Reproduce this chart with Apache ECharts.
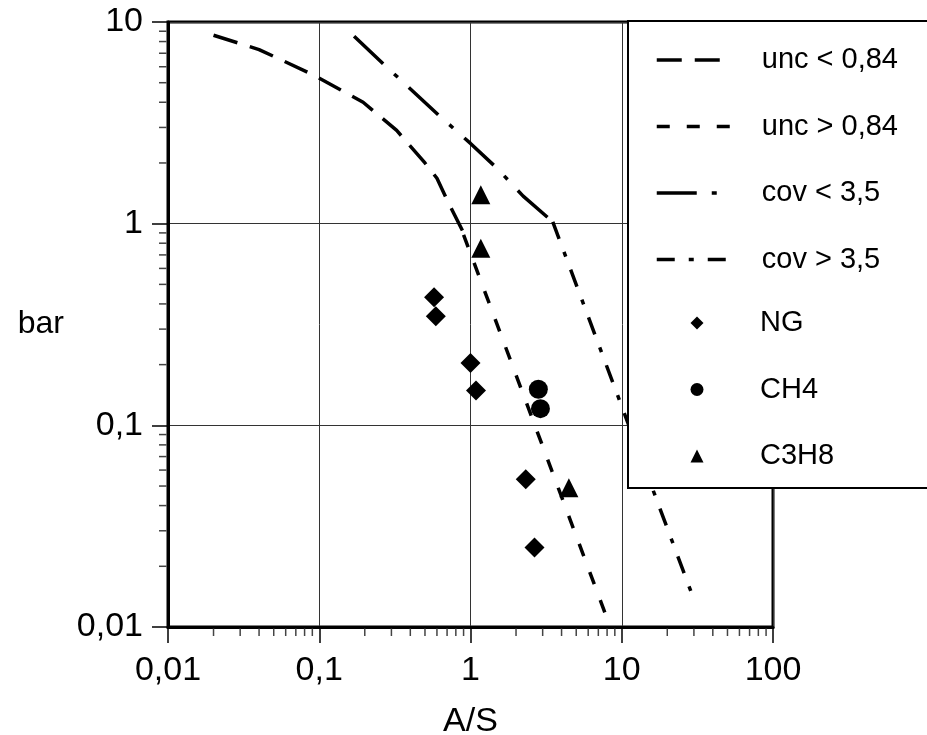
<!DOCTYPE html>
<html>
<head>
<meta charset="utf-8">
<script src="https://cdn.jsdelivr.net/npm/echarts@6/dist/echarts.min.js"></script>
<style>
  html, body { margin: 0; padding: 0; background: #fff; }
  #chart { width: 927px; height: 735px; }
</style>
</head>
<body>
<div id="chart"></div>
<script>
// curves, [A/S, bar]
const uncLow = [[0.02, 8.6], [0.04, 7.3], [0.09, 5.5], [0.195, 4.0], [0.325, 2.9], [0.5, 2.0], [0.6, 1.68], [0.7, 1.31], [0.9, 0.9]]
const uncHigh = [[0.9, 0.88], [8.4, 0.01]]
const covLow = [[0.17, 8.5], [0.265, 6.2], [0.63, 3.4], [1, 2.5], [1.5, 1.88], [2.23, 1.37], [3.5, 1.02]]
const covHigh = [[3.5, 1.02], [30, 0.0137]]

// measured points
const ng = [[0.574, 0.432], [0.59, 0.347], [1.0, 0.204], [1.087, 0.149], [2.32, 0.054], [2.65, 0.0248]]
const ch4 = [[2.81, 0.151], [2.9, 0.121]]
const c3h8 = [[1.17, 1.39], [1.17, 0.755], [4.47, 0.049]]

const lineNames = ['unc < 0,84', 'unc > 0,84', 'cov < 3,5', 'cov > 3,5']
const pointNames = ['NG', 'CH4', 'C3H8']

// minor tick positions (2..9 in each decade)
const xDecades = [0.01, 0.1, 1, 10]
const yDecades = [0.01, 0.1, 1]
const minorX = []
xDecades.forEach(d => { for (let k = 2; k <= 9; k++) minorX.push(+(k * d).toPrecision(6)) })
const minorY = []
yDecades.forEach(d => { for (let k = 2; k <= 9; k++) minorY.push(+(k * d).toPrecision(6)) })

const fmt = v => String(+(+v).toPrecision(6)).replace('.', ',')
const font = 'Liberation Sans, Arial, sans-serif'

const chart = echarts.init(document.getElementById('chart'), null, { renderer: 'canvas' })

const lineSeries = (name, data, dash) => ({
  name: name,
  type: 'line',
  data: data,
  symbol: 'none',
  smooth: false,
  z: 3,
  lineStyle: { color: '#000', width: 3.5, type: dash, cap: 'butt' },
  itemStyle: { color: '#000' }
})

const pointSeries = (name, data, symbol) => ({
  name: name,
  type: 'scatter',
  data: data,
  symbol: symbol,
  symbolSize: symbol === 'diamond' ? 20 : 19,
  z: 4,
  itemStyle: { color: '#000', opacity: 1 }
})

const option = {
  backgroundColor: '#fff',
  animation: false,
  textStyle: { fontFamily: font, color: '#000' },
  grid: {
    left: 168, right: 154, top: 22, bottom: 108,
    outerBoundsMode: 'none',
    containLabel: false,
    show: true, borderColor: '#000', borderWidth: 3, backgroundColor: 'transparent'
  },
  xAxis: {
    type: 'log',
    logBase: 10,
    min: 0.01,
    max: 100,
    name: 'A/S',
    nameLocation: 'middle',
    nameGap: 78,
    nameTextStyle: { fontSize: 34, color: '#000', fontFamily: font },
    axisLine: { show: true, lineStyle: { color: '#000', width: 3 } },
    axisTick: { show: true, length: 16, lineStyle: { color: '#000', width: 1.5 } },
    axisLabel: { fontSize: 34, color: '#000', margin: 27, formatter: fmt, showMinLabel: true, showMaxLabel: true },
    splitLine: { show: true, lineStyle: { color: '#333', width: 1 } }
  },
  yAxis: {
    type: 'log',
    logBase: 10,
    min: 0.01,
    max: 10,
    name: 'bar',
    nameLocation: 'middle',
    nameRotate: 0,
    nameGap: 104,
    nameTextStyle: { fontSize: 32, color: '#000', fontFamily: font },
    axisLine: { show: true, lineStyle: { color: '#000', width: 3 } },
    axisTick: { show: true, length: 16, lineStyle: { color: '#000', width: 1.5 } },
    axisLabel: { fontSize: 34, color: '#000', margin: 25, formatter: fmt, showMinLabel: true, showMaxLabel: true },
    splitLine: { show: true, lineStyle: { color: '#333', width: 1 } }
  },
  legend: [
    {
      data: lineNames,
      orient: 'vertical',
      left: 655,
      top: 45,
      padding: 0,
      itemWidth: 73,
      itemHeight: 14,
      itemGap: 36.5,
      z: 20,
      selectedMode: false,
      itemStyle: { opacity: 0 },
      lineStyle: { width: 3.5 },
      textStyle: { fontSize: 29, lineHeight: 30, color: '#000', fontFamily: font, padding: [0, 0, 0, 27] }
    },
    {
      data: pointNames,
      orient: 'vertical',
      left: 690.5,
      top: 308,
      padding: 0,
      itemWidth: 13,
      itemHeight: 13,
      itemGap: 36.5,
      z: 20,
      selectedMode: false,
      itemStyle: { opacity: 1 },
      textStyle: { fontSize: 29, lineHeight: 30, color: '#000', fontFamily: font, padding: [0, 0, 0, 51.5] }
    }
  ],
  graphic: [
    {
      type: 'rect',
      z: 10,
      shape: { x: 628, y: 21, width: 320, height: 467 },
      style: { fill: '#fff', stroke: '#000', lineWidth: 2 }
    }
  ],
  series: [
    lineSeries(lineNames[0], uncLow, [25, 13]),
    lineSeries(lineNames[1], uncHigh, [13, 17]),
    lineSeries(lineNames[2], covLow, [40, 15, 5, 15]),
    lineSeries(lineNames[3], covHigh, [18, 14, 5, 14]),
    pointSeries(pointNames[0], ng, 'diamond'),
    pointSeries(pointNames[1], ch4, 'circle'),
    pointSeries(pointNames[2], c3h8, 'triangle'),
    {
      type: 'custom',
      silent: true,
      clip: false,
      data: minorX.map(v => [v, 0.01]),
      renderItem: (params, api) => {
        const p = api.coord([api.value(0), api.value(1)])
        return { type: 'line', shape: { x1: p[0], y1: p[1] + 1.5, x2: p[0], y2: p[1] + 9 }, style: { stroke: '#444', lineWidth: 1.5 } }
      }
    },
    {
      type: 'custom',
      silent: true,
      clip: false,
      data: minorY.map(v => [0.01, v]),
      renderItem: (params, api) => {
        const p = api.coord([api.value(0), api.value(1)])
        return { type: 'line', shape: { x1: p[0] - 9, y1: p[1], x2: p[0] - 1.5, y2: p[1] }, style: { stroke: '#444', lineWidth: 1.5 } }
      }
    }
  ]
}

chart.setOption(option)
</script>
</body>
</html>
